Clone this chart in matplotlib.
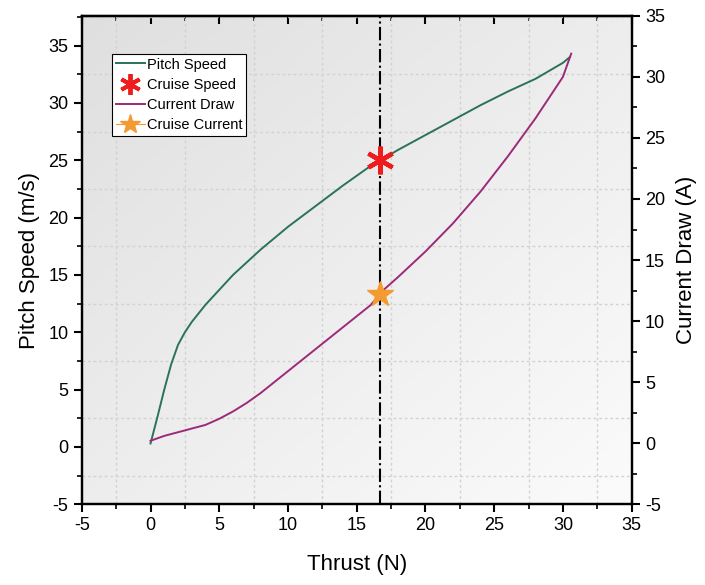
import numpy as np
import matplotlib
matplotlib.use("Agg")
import matplotlib.pyplot as plt
from matplotlib.ticker import MultipleLocator
from matplotlib.lines import Line2D

plt.rcParams['font.family'] = ['Liberation Sans', 'DejaVu Sans']
plt.rcParams['axes.unicode_minus'] = False

# Data
thrust_pitch = [0, 0.5, 1, 1.5, 2, 2.5, 3, 4, 5, 6, 8, 10, 12, 14, 16, 18, 20, 22, 24, 26, 28, 30, 30.5]
pitch_speed = [0.3, 2.6, 5.0, 7.2, 8.9, 10.0, 10.9, 12.4, 13.7, 15.0, 17.2, 19.2, 21.0, 22.8, 24.5, 25.9, 27.2, 28.5, 29.8, 31.0, 32.1, 33.5, 34.0]

thrust_current = [0, 1, 2, 3, 4, 5, 6, 7, 8, 9, 10, 11, 12, 13, 14, 15, 16, 17, 18, 20, 22, 24, 26, 28, 30, 30.6]
current_draw = [0.2, 0.6, 0.9, 1.2, 1.5, 2.0, 2.6, 3.3, 4.1, 5.0, 5.9, 6.8, 7.7, 8.6, 9.5, 10.4, 11.3, 12.6, 13.6, 15.7, 18.0, 20.6, 23.5, 26.6, 30.0, 31.9]

cruise_thrust = 16.7
cruise_speed = 25.0
cruise_current = 12.2

xticks = [-5, 0, 5, 10, 15, 20, 25, 30, 35]
yticks_left = [-5, 0, 5, 10, 15, 20, 25, 30, 35]
yticks_right = [-5, 0, 5, 10, 15, 20, 25, 30, 35]

fig = plt.figure(figsize=(7.05, 5.85), dpi=100)
ax = fig.add_axes([0.116, 0.138, 0.78, 0.835])
ax2 = ax.twinx()

# diagonal gradient background: darker top-left, near white bottom-right
gx, gy = np.meshgrid(np.linspace(0, 1, 300), np.linspace(0, 1, 300))
t = (gx + gy) / 2.0  # row 0 at top
shade = 0.875 + 0.11 * t
img = np.dstack([shade, shade, shade])
ax.imshow(img, extent=[0, 1, 0, 1], transform=ax.transAxes,
          origin='upper', aspect='auto', zorder=0, interpolation='bilinear')

ax.set_xlim(-5, 35)
ax.set_ylim(-5, 37.6)
ax2.set_ylim(-5, 35)

# grid at minor positions
for gxv in np.arange(-2.5, 35, 5):
    ax.axvline(gxv, color='#d2d2d2', lw=1.0, ls=(0, (2, 2)), zorder=1)
for gyv in np.arange(-2.5, 37.6, 5):
    ax.axhline(gyv, color='#d2d2d2', lw=1.0, ls=(0, (2, 2)), zorder=1)

ax.axvline(cruise_thrust, color='black', lw=1.5, ls='-.', zorder=2)

l1, = ax.plot(thrust_pitch, pitch_speed, color='#2a7357', lw=1.4, zorder=3, label='Pitch Speed')
m1, = ax.plot([cruise_thrust], [cruise_speed], ls='none', marker=(6, 2, 0), markersize=20,
              markeredgewidth=3.2, color='#ee1c1c', zorder=5, label='Cruise Speed')
l2, = ax2.plot(thrust_current, current_draw, color='#9c2a79', lw=1.4, zorder=3, label='Current Draw')
m2, = ax2.plot([cruise_thrust], [cruise_current], ls='none', marker='*', markersize=19,
               color='#f39a30', markeredgecolor='#f39a30', zorder=5, label='Cruise Current')

ax.set_xticks(xticks)
ax.set_yticks(yticks_left)
ax2.set_yticks(yticks_right)
ax.xaxis.set_minor_locator(MultipleLocator(2.5))
ax.yaxis.set_minor_locator(MultipleLocator(2.5))
ax2.yaxis.set_minor_locator(MultipleLocator(2.5))

ax.tick_params(axis='both', which='major', labelsize=13, width=1.5, length=6, direction='out')
ax.tick_params(axis='both', which='minor', width=1.2, length=3.5, direction='out')
ax2.tick_params(axis='y', which='major', labelsize=13, width=1.5, length=6, direction='out')
ax2.tick_params(axis='y', which='minor', width=1.2, length=3.5, direction='out')

# top ticks pointing inward via secondary axis
secx = ax.secondary_xaxis('top')
secx.set_xticks(xticks)
secx.xaxis.set_minor_locator(MultipleLocator(2.5))
secx.tick_params(axis='x', which='major', direction='in', length=6, width=1.5, labeltop=False)
secx.tick_params(axis='x', which='minor', direction='in', length=3.5, width=1.2)

for a in (ax, ax2):
    for s in a.spines.values():
        s.set_linewidth(1.6)
secx.spines['top'].set_linewidth(1.6)

ax.set_xlabel('Thrust (N)', fontsize=16, labelpad=14)
ax.set_ylabel('Pitch Speed (m/s)', fontsize=16, labelpad=6)
ax2.set_ylabel('Current Draw (A)', fontsize=16, labelpad=8)

h4 = Line2D([], [], color='#f39a30', lw=0.8, marker='*', markersize=15)
h2 = Line2D([], [], ls='none', marker=(6, 2, 0), markersize=15, markeredgewidth=2.8, color='#ee1c1c')
leg = ax2.legend([l1, h2, l2, h4], ['Pitch Speed', 'Cruise Speed', 'Current Draw', 'Cruise Current'],
                 loc='upper left', bbox_to_anchor=(0.055, 0.922), fontsize=10.5,
                 frameon=True, fancybox=False, edgecolor='black', framealpha=1,
                 handlelength=2.0, handletextpad=0.15, borderpad=0.25, labelspacing=0.42,
                 borderaxespad=0)
leg.get_frame().set_linewidth(0.8)

fig.savefig('out.png', dpi=100)
